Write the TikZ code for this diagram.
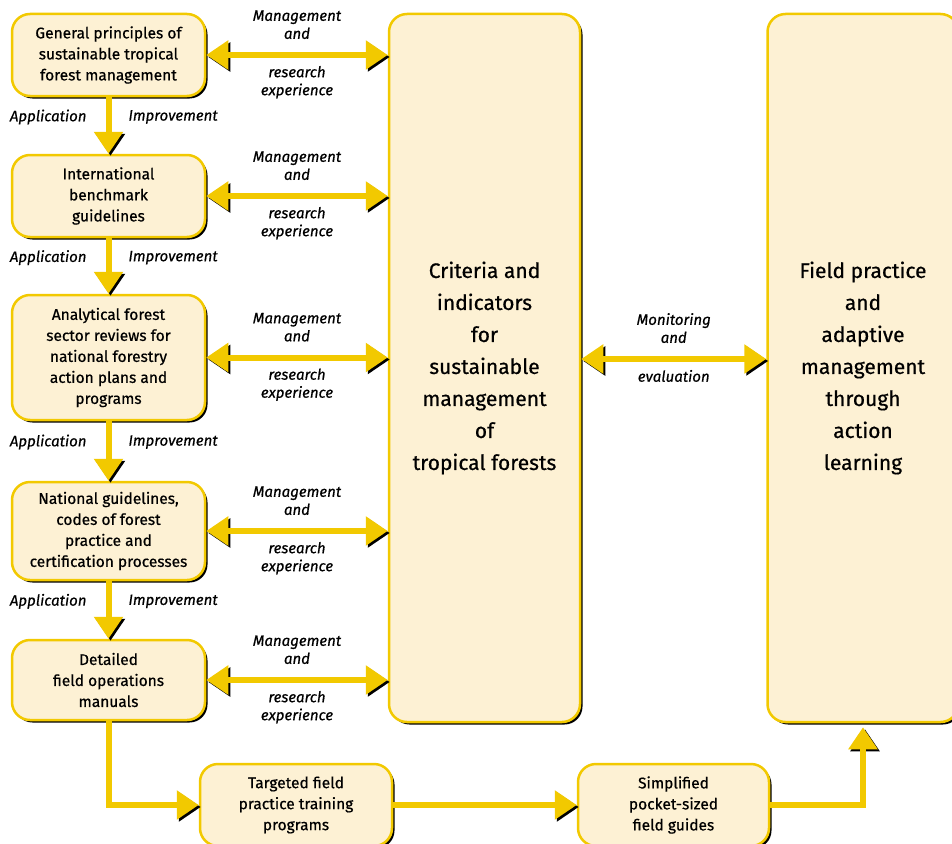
\documentclass[tikz,border=0pt]{standalone}
\usepackage{fontspec}
\setmainfont{Fira Sans}[FakeBold=0.6]
\usetikzlibrary{arrows.meta, shadows}
\definecolor{boxfill}{HTML}{FDF1D4}
\definecolor{boxline}{HTML}{F2C900}

\begin{document}
\begin{tikzpicture}[
    x=1pt, y=-1pt,
    box/.style={rectangle, draw=boxline, line width=2.5pt, fill=boxfill, rounded corners=18pt, minimum width=193pt, align=center, inner sep=0pt, font=\fontsize{15.5}{21}\selectfont, drop shadow={shadow xshift=2.5pt, shadow yshift=-2.5pt, fill=black, opacity=1}},
    bigbox/.style={box, minimum width=191pt, minimum height=708pt, font=\fontsize{21}{32}\selectfont},
    arrow/.style={draw=boxline, line width=6pt, -{Triangle[length=22pt, width=28pt]}, preaction={draw=black, transform canvas={shift={(2pt,-2pt)}}}},
    twoway/.style={arrow, {Triangle[length=22pt, width=28pt]}-{Triangle[length=22pt, width=28pt]}},
    lbl/.style={font=\fontsize{15}{18}\selectfont\itshape, align=center, inner sep=0pt},
]
\useasboundingbox (0,0) rectangle (952,843);
\clip (0,0) rectangle (952,843);

\node[box, minimum height=82pt] (gen) at (108.5,55) {General principles of\\sustainable tropical\\forest management};
\node[box, minimum height=82pt] (bench) at (108.5,196) {International\\benchmark\\guidelines};
\node[box, minimum height=125pt] (review) at (108.5,357.5) {Analytical forest\\sector reviews for\\national forestry\\action plans and\\programs};
\node[box, minimum height=98pt] (codes) at (108.5,531) {National guidelines,\\codes of forest\\practice and\\certification processes};
\node[box, minimum height=80pt] (manual) at (108.5,680) {Detailed\\field operations\\manuals};
\node[bigbox] (crit) at (484.5,368) {Criteria and\\indicators\\for\\sustainable\\management\\of\\tropical forests};
\node[bigbox] (field) at (863,368) {Field practice\\and\\adaptive\\management\\through\\action\\learning};
\node[box, minimum width=192pt, minimum height=82pt] (train) at (296,805) {Targeted field\\practice training\\programs};
\node[box, minimum width=191pt, minimum height=82pt] (guide) at (673.5,805) {Simplified\\pocket-sized\\field guides};

% down the left column
\foreach \a/\b in {gen/bench, bench/review, review/codes, codes/manual}
  \draw[arrow] (\a) -- (\b)
    node[pos=0.35, left=19pt, lbl] {Application}
    node[pos=0.35, right=17pt, lbl] {Improvement};

% exchange with the criteria box
\foreach \n in {gen, bench, review, codes, manual}
  \draw[twoway] (\n.east) -- (\n.east -| crit.west)
    node[midway, above=13pt, lbl] {Management\\and}
    node[midway, below=8pt, lbl] {research\\experience};

\draw[twoway] ([yshift=9pt]crit.east) -- ([yshift=9pt]field.west)
  node[midway, above=13pt, lbl] {Monitoring\\and}
  node[midway, below=8pt, lbl] {evaluation};

% bottom row
\draw[arrow] (manual) |- (train);
\draw[arrow] (train) -- (guide);
\draw[arrow, shorten >=4pt] (guide) -| (field);

\end{tikzpicture}
\end{document}
